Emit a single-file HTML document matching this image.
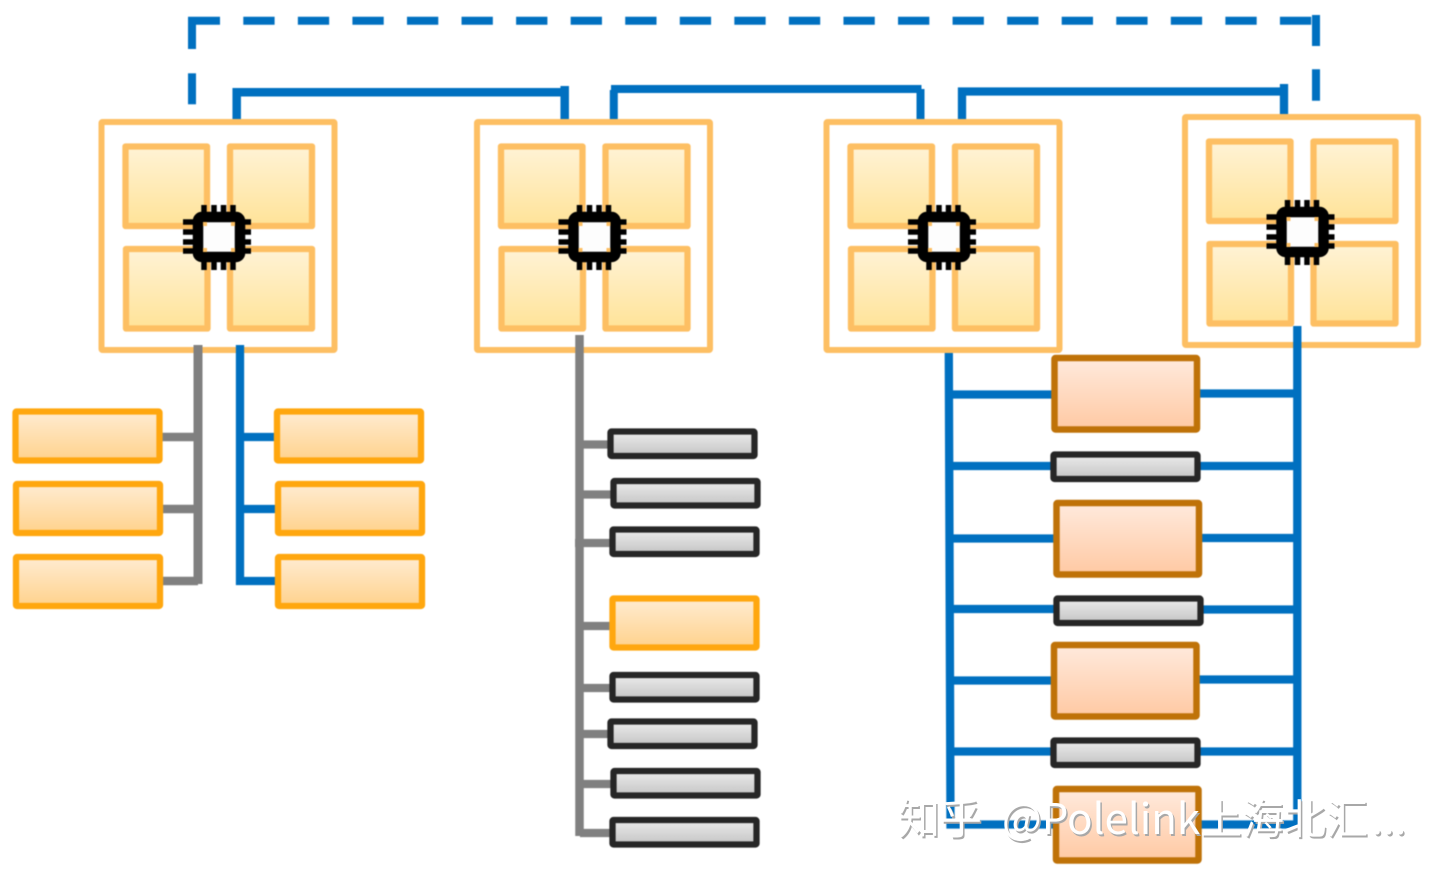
<!DOCTYPE html>
<html>
<head>
<meta charset="utf-8">
<style>
html,body{margin:0;padding:0;background:#fff;width:1443px;height:879px;overflow:hidden}
svg{display:block}
.wm{font-family:"Noto Sans CJK SC","Liberation Sans",sans-serif;font-size:42px}
.art{filter:blur(.4px)}
</style>
</head>
<body>
<svg width="1443" height="879" viewBox="0 0 1443 879" xmlns="http://www.w3.org/2000/svg">
<defs>
<linearGradient id="y" x1="0" y1="0" x2="0" y2="1"><stop offset="0" stop-color="#fff3d6"/><stop offset="1" stop-color="#ffe398"/></linearGradient>
<linearGradient id="o" x1="0" y1="0" x2="0" y2="1"><stop offset="0" stop-color="#ffecd2"/><stop offset="1" stop-color="#ffd28c"/></linearGradient>
<linearGradient id="p" x1="0" y1="0" x2="0" y2="1"><stop offset="0" stop-color="#ffeadd"/><stop offset="1" stop-color="#ffc9a3"/></linearGradient>
<linearGradient id="g" x1="0" y1="0" x2="0" y2="1"><stop offset="0" stop-color="#ececec"/><stop offset="1" stop-color="#c4c4c4"/></linearGradient>
<g id="cpu">
<rect x="101.500" y="122" width="233" height="228" fill="#fff" stroke="#fdbf63" stroke-width="6" rx="1"/>
<g fill="url(#y)" stroke="#fdbf63" stroke-width="6.300" stroke-linejoin="round">
<rect x="125.500" y="146.500" width="81.500" height="79.500"/>
<rect x="230" y="146.500" width="82" height="79.500"/>
<rect x="126" y="249" width="81.500" height="79.500"/>
<rect x="230" y="249" width="82" height="79.500"/>
</g>
<g stroke="#000" stroke-width="5.500" fill="none">
<path d="M204 205V270M214 205V270M223.500 205V270M233 205V270"/>
<path d="M183 222H251M183 232H251M183 242H251M183 251H251"/>
</g>
<rect x="198" y="217" width="42" height="40" rx="4" fill="#fdfdfd" stroke="#000" stroke-width="10.500"/>
<g fill="#fdbf63">
<rect x="203" y="222" width="4" height="4"/><rect x="231" y="222" width="4" height="4"/>
<rect x="203" y="248" width="4" height="4"/><rect x="231" y="248" width="4" height="4"/>
</g>
</g>
<rect id="ob" width="144" height="49" rx="1" fill="url(#o)" stroke="#ffa70f" stroke-width="6.300"/>
<rect id="gb" width="144" height="24.500" rx="1" fill="url(#g)" stroke="#262626" stroke-width="6.300"/>
<rect id="pb" width="142.500" height="71.500" rx="1" fill="url(#p)" stroke="#bf7208" stroke-width="6.500"/>
</defs>

<g class="art">
<!-- top links -->
<g fill="none" stroke="#0070c0" stroke-width="8">
<path d="M192 49V20.800H220"/>
<path d="M192 73.300V104.300"/>
<path d="M243.300 20.800H1312" stroke-dasharray="31.300 23.260"/>
<path d="M1316 15V46M1316 69.300V100.700"/>
<path d="M236.700 124V92.200H565M564.700 86V120" stroke-width="8.500"/>
<path d="M613.800 124V90M611 89H921.500M920.500 89V122" stroke-width="8"/>
<path d="M962 122V91.500H1284M1284 84V115" stroke-width="8.300"/>
</g>

<use href="#cpu"/>
<use href="#cpu" x="375.500"/>
<use href="#cpu" x="725"/>
<use href="#cpu" x="1083.500" y="-5"/>

<!-- left tree -->
<g fill="none" stroke="#808080" stroke-width="9">
<path d="M198 345V584"/>
<path d="M160 437H198M158 509H198M161 581H198" stroke-width="8.500"/>
</g>
<g fill="none" stroke="#0070c0" stroke-width="8.300">
<path d="M240 345V581H276"/>
<path d="M240 437H276M240 509H276"/>
</g>
<use href="#ob" x="15.500" y="411.500"/>
<use href="#ob" x="16" y="484"/>
<use href="#ob" x="16" y="557"/>
<use href="#ob" x="277" y="411.500"/>
<use href="#ob" x="278" y="484"/>
<use href="#ob" x="278" y="557"/>

<!-- middle tree -->
<g fill="none" stroke="#808080" stroke-width="8.500">
<path d="M579.500 335V836"/>
<path d="M580 444.500H610M580 494.500H612M575 543H612M580 626H612M580 688H612M580 734H610M580 784H612M580 833H612" stroke-width="8.300"/>
</g>
<use href="#gb" x="610.500" y="431.500"/>
<use href="#gb" x="613.500" y="481"/>
<use href="#gb" x="612.500" y="529.500"/>
<use href="#ob" x="612.500" y="598.500"/>
<use href="#gb" x="612.500" y="675"/>
<use href="#gb" x="610.500" y="721.500"/>
<use href="#gb" x="613.500" y="771"/>
<use href="#gb" x="612.500" y="820"/>

<!-- right tree -->
<g fill="none" stroke="#0070c0" stroke-width="8.300">
<path d="M948.800 353L950.500 824.500H1297.300V326"/>
<path d="M950 394.500H1054M1198 393.500H1297M950 466H1054M1198 466H1297M950 538.500H1056M1200 538H1297M950 609H1056M1200 609.500H1297M950 680.500H1053M1197 679.500H1297M950 751.500H1053M1197 751.500H1297"/>
</g>
<use href="#pb" x="1054.500" y="358"/>
<use href="#gb" x="1053.500" y="454.500"/>
<use href="#pb" x="1056.500" y="503"/>
<use href="#gb" x="1056.500" y="598.500"/>
<use href="#pb" x="1054" y="645"/>
<use href="#gb" x="1053.500" y="740.500"/>
<use href="#pb" x="1056" y="789"/>
</g>

<!-- watermark -->
<text class="wm" y="836" fill="#a8a8a8"><tspan x="899.500">知乎</tspan> <tspan x="1003.500">@Polelink上海北汇</tspan><tspan dx="3">...</tspan></text>
<text class="wm" y="834" fill="#ffffff"><tspan x="898">知乎</tspan> <tspan x="1002">@Polelink上海北汇</tspan><tspan dx="3">...</tspan></text>
</svg>
</body>
</html>
